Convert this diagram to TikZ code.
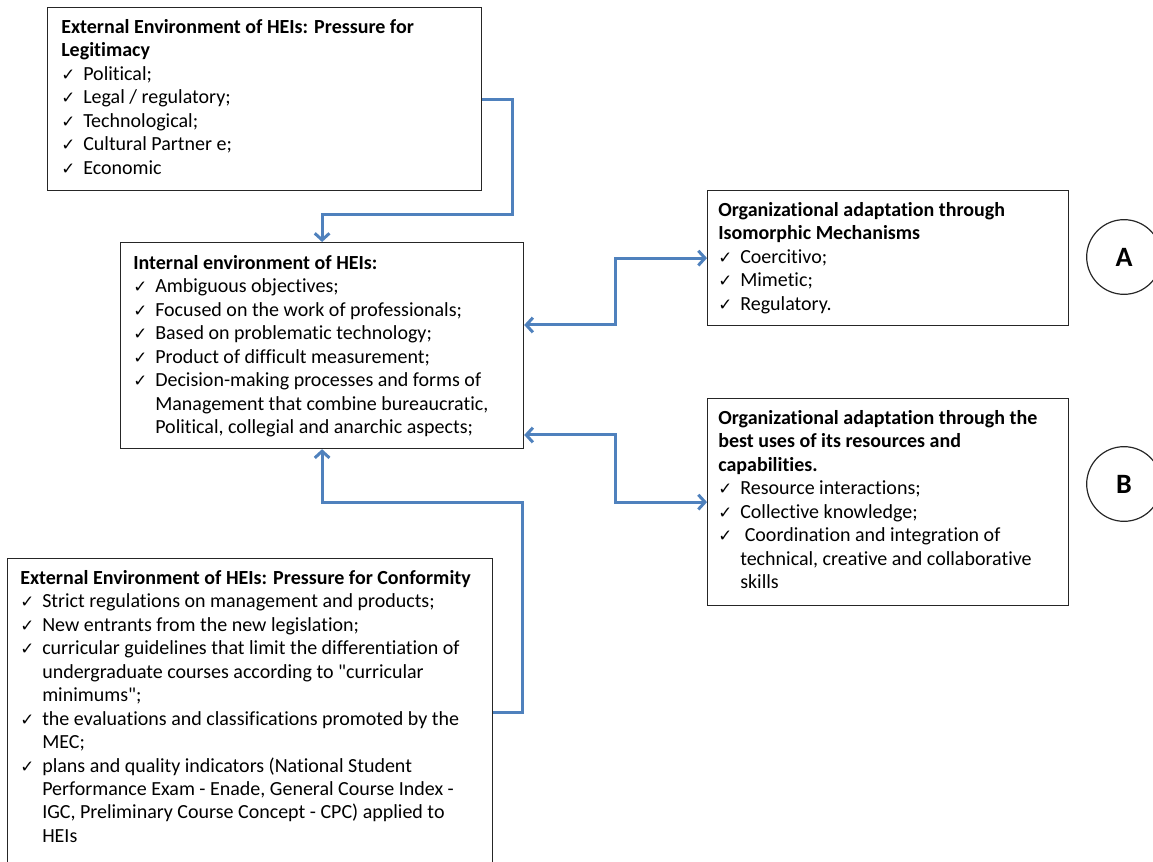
\documentclass[tikz,border=0pt]{standalone}
\usepackage{fontspec}
\setmainfont{Carlito}[Ligatures={TeXOff,NoCommon}]
\newfontfamily\ckfont{DejaVu Sans}
\usetikzlibrary{arrows.meta}
\definecolor{linkblue}{RGB}{79,129,189}
\newcommand{\ck}{\makebox[16.5pt][l]{\ckfont\fontsize{12.5pt}{12.5pt}\selectfont ✓}}
\newcommand{\hang}{\hspace*{16.5pt}}

\begin{document}
\begin{tikzpicture}[x=0.75pt, y=-0.75pt,
  frame/.style={draw=black!85, line width=0.9pt, anchor=north west, inner sep=0pt},
  txt/.style={anchor=north west, inner sep=0pt, align=left,
    font=\fontsize{15pt}{17.6pt}\selectfont},
  link/.style={draw=linkblue, line width=2.25pt},
  tip/.tip={Straight Barb[length=5pt,width=11pt]},
  letter/.style={draw=black!85, line width=0.9pt, circle, minimum size=56pt,
    inner sep=0pt, font=\fontsize{21pt}{21pt}\selectfont\bfseries}]
  \useasboundingbox (0,0) rectangle (1153,862);
  \clip (0,0) rectangle (1153,862);

  % boxes
  \node[frame, minimum width=325.5pt, minimum height=137.25pt] (T) at (47,7) {};
  \node[frame, minimum width=302.25pt, minimum height=154.5pt] (M) at (120,242) {};
  \node[frame, minimum width=270.75pt, minimum height=101.25pt] (A) at (707,190) {};
  \node[frame, minimum width=270.75pt, minimum height=155.25pt] (B) at (707,398) {};
  \node[frame, minimum width=363.75pt, minimum height=231pt] (C) at (7,558) {};

  % texts
  \node[txt] (Ttext) at ([shift={(14,12)}]T.north west) {%
    \textbf{External Environment of HEIs: Pressure for}\\
    \textbf{Legitimacy}\\
    \ck Political;\\
    \ck Legal / regulatory;\\
    \ck Technological;\\
    \ck Cultural Partner e;\\
    \ck Economic};
  \node[txt] (Mtext) at ([shift={(13,13)}]M.north west) {%
    \textbf{Internal environment of HEIs:}\\
    \ck Ambiguous objectives;\\
    \ck Focused on the work of professionals;\\
    \ck Based on problematic technology;\\
    \ck Product of difficult measurement;\\
    \ck Decision-making processes and forms of\\
    \hang Management that combine bureaucratic,\\
    \hang Political, collegial and anarchic aspects;};
  \node[txt] (Atext) at ([shift={(11,12)}]A.north west) {%
    \textbf{Organizational adaptation through}\\
    \textbf{Isomorphic Mechanisms}\\
    \ck Coercitivo;\\
    \ck Mimetic;\\
    \ck Regulatory.};
  \node[txt] (Btext) at ([shift={(11,12)}]B.north west) {%
    \textbf{Organizational adaptation through the}\\
    \textbf{best uses of its resources and}\\
    \textbf{capabilities.}\\
    \ck Resource interactions;\\
    \ck Collective knowledge;\\
    \ck\ Coordination and integration of\\
    \hang technical, creative and collaborative\\
    \hang skills};
  \node[txt] (Ctext) at ([shift={(13,12)}]C.north west) {%
    \textbf{External Environment of HEIs: Pressure for Conformity}\\
    \ck Strict regulations on management and products;\\
    \ck New entrants from the new legislation;\\
    \ck curricular guidelines that limit the differentiation of\\
    \hang undergraduate courses according to "curricular\\
    \hang minimums";\\
    \ck the evaluations and classifications promoted by the\\
    \hang MEC;\\
    \ck plans and quality indicators (National Student\\
    \hang Performance Exam - Enade, General Course Index -\\
    \hang IGC, Preliminary Course Concept - CPC) applied to\\
    \hang HEIs};

  % circles
  \node[letter] (cA) at (1124,257) {A};
  \node[letter] (cB) at (1124,484) {B};

  % connectors
  \coordinate (jT) at (512,215);
  \coordinate (jA) at (615,325);
  \coordinate (jB) at (615,435);
  \coordinate (jC) at (522,503);
  \draw[link,-tip] (T.east) -| (jT) -| (M.north);
  \draw[link,tip-tip] (M.east |- jA) -- (jA) |- (A.west);
  \draw[link,tip-tip] (M.east |- jB) -- (jB) |- (B.west);
  \draw[link,-tip] (C.east) -| (jC) -| (M.south);
\end{tikzpicture}
\end{document}
